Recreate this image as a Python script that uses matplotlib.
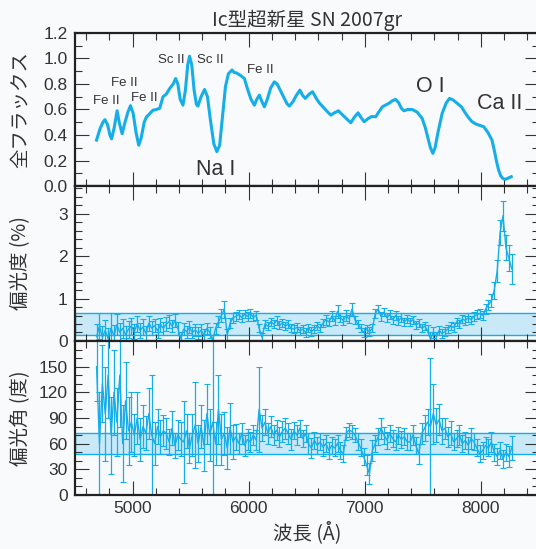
import numpy as np
import matplotlib
matplotlib.use('Agg')
import matplotlib.pyplot as plt
from matplotlib.ticker import MultipleLocator, FormatStrFormatter

plt.rcParams['font.family'] = ['Liberation Sans', 'Noto Sans CJK JP']
jp = ['Noto Sans CJK JP', 'DejaVu Sans']

# 全フラックス (wavelength, flux)
flux_wl = [4690, 4720, 4745, 4762, 4785, 4805, 4819, 4840, 4867, 4885, 4910, 4935, 4960, 4982,
           5005, 5030, 5053, 5075, 5100, 5119, 5150, 5176, 5205, 5234, 5262, 5290, 5320, 5350,
           5371, 5390, 5410, 5434, 5455, 5475, 5491, 5510, 5530, 5550, 5563, 5590, 5620, 5645,
           5670, 5700, 5726, 5750, 5775, 5800, 5825, 5857, 5875, 5892, 5925, 5963, 5990, 6020,
           6049, 6070, 6092, 6115, 6135, 6160, 6190, 6221, 6245, 6264, 6300, 6330, 6350, 6380,
           6410, 6441, 6465, 6487, 6520, 6550, 6580, 6607, 6640, 6670, 6707, 6740, 6773, 6800,
           6840, 6879, 6910, 6942, 6965, 6994, 7030, 7060, 7094, 7120, 7151, 7180, 7210, 7240,
           7265, 7290, 7315, 7337, 7370, 7408, 7450, 7494, 7520, 7545, 7565, 7586, 7605, 7630,
           7666, 7700, 7729, 7760, 7800, 7832, 7860, 7890, 7923, 7960, 7990, 8024, 8060, 8095,
           8115, 8135, 8152, 8170, 8190, 8210, 8235, 8261]
flux = [0.36, 0.45, 0.50, 0.52, 0.48, 0.40, 0.37, 0.45, 0.59, 0.50, 0.41, 0.50, 0.58, 0.63,
        0.57, 0.42, 0.32, 0.38, 0.50, 0.54, 0.57, 0.595, 0.60, 0.61, 0.70, 0.72, 0.765, 0.80,
        0.843, 0.80, 0.68, 0.634, 0.75, 0.95, 1.018, 0.95, 0.75, 0.64, 0.627, 0.70, 0.757, 0.70,
        0.52, 0.33, 0.27, 0.32, 0.55, 0.78, 0.88, 0.91, 0.89, 0.888, 0.87, 0.843, 0.76, 0.68,
        0.634, 0.68, 0.713, 0.66, 0.621, 0.68, 0.77, 0.817, 0.80, 0.765, 0.70, 0.645, 0.627, 0.66,
        0.71, 0.752, 0.71, 0.687, 0.72, 0.739, 0.69, 0.653, 0.62, 0.59, 0.556, 0.575, 0.59, 0.565,
        0.53, 0.496, 0.54, 0.574, 0.54, 0.504, 0.53, 0.545, 0.543, 0.58, 0.621, 0.635, 0.65, 0.67,
        0.679, 0.655, 0.61, 0.59, 0.60, 0.60, 0.58, 0.53, 0.46, 0.37, 0.30, 0.256, 0.30, 0.42,
        0.569, 0.65, 0.687, 0.675, 0.645, 0.621, 0.58, 0.54, 0.504, 0.485, 0.475, 0.465, 0.42, 0.36,
        0.28, 0.19, 0.126, 0.08, 0.058, 0.052, 0.062, 0.073]

# 偏光 binned data, 25 A bins from 4690 A
pol_wl = np.arange(4690, 8266, 25)
pol = [0.10, 0.35, 0.08, 0.25, 0.05, 0.30, 0.12, 0.38, 0.20, 0.30, 0.15, 0.28,
       0.35, 0.22, 0.40, 0.25, 0.33, 0.18, 0.42, 0.30, 0.36, 0.24, 0.38, 0.30,
       0.40, 0.46, 0.35, 0.48, 0.30, 0.05, 0.28, 0.22, 0.32, 0.20, 0.26, 0.18,
       0.25, 0.15, 0.30, 0.20, 0.02, 0.30, 0.45, 0.60, 0.75, 0.15, 0.42, 0.55,
       0.58, 0.62, 0.55, 0.63, 0.58, 0.65, 0.56, 0.60, 0.30, 0.08, 0.40, 0.35,
       0.45, 0.40, 0.48, 0.38, 0.42, 0.35, 0.40, 0.30, 0.28, 0.32, 0.24, 0.28,
       0.20, 0.30, 0.22, 0.28, 0.35, 0.30, 0.42, 0.50, 0.45, 0.58, 0.48, 0.70,
       0.55, 0.48, 0.60, 0.52, 0.75, 0.50, 0.40, 0.30, 0.20, 0.28, 0.22, 0.30,
       0.65, 0.75, 0.58, 0.68, 0.55, 0.62, 0.50, 0.60, 0.48, 0.55, 0.45, 0.52,
       0.45, 0.50, 0.38, 0.42, 0.30, 0.35, 0.25, 0.05, 0.20, 0.10, 0.25, 0.18,
       0.22, 0.28, 0.35, 0.32, 0.45, 0.40, 0.52, 0.48, 0.55, 0.50, 0.58, 0.62,
       0.65, 0.60, 0.75, 0.85, 0.95, 1.20, 1.65, 2.55, 2.95, 2.20, 1.95, 1.70]
pol_err = [0.30, 0.30, 0.28, 0.25, 0.25, 0.35, 0.25, 0.25, 0.22, 0.22, 0.20, 0.20,
           0.20, 0.18, 0.20, 0.18, 0.18, 0.18, 0.18, 0.16, 0.16, 0.16, 0.16, 0.15,
           0.16, 0.16, 0.15, 0.15, 0.15, 0.15, 0.15, 0.14, 0.14, 0.14, 0.14, 0.14,
           0.14, 0.14, 0.13, 0.13, 0.13, 0.13, 0.13, 0.15, 0.20, 0.14, 0.12, 0.12,
           0.11, 0.11, 0.11, 0.10, 0.10, 0.10, 0.10, 0.10, 0.10, 0.10, 0.10, 0.10,
           0.10, 0.10, 0.10, 0.10, 0.10, 0.10, 0.10, 0.10, 0.10, 0.10, 0.10, 0.10,
           0.10, 0.10, 0.10, 0.10, 0.10, 0.10, 0.10, 0.12, 0.10, 0.12, 0.10, 0.15,
           0.10, 0.10, 0.12, 0.10, 0.15, 0.10, 0.10, 0.10, 0.10, 0.10, 0.10, 0.10,
           0.10, 0.10, 0.10, 0.10, 0.10, 0.10, 0.10, 0.10, 0.10, 0.10, 0.10, 0.10,
           0.10, 0.10, 0.10, 0.10, 0.10, 0.10, 0.12, 0.15, 0.12, 0.12, 0.10, 0.10,
           0.10, 0.10, 0.10, 0.10, 0.10, 0.10, 0.10, 0.10, 0.10, 0.10, 0.10, 0.10,
           0.10, 0.10, 0.12, 0.12, 0.15, 0.20, 0.25, 0.30, 0.35, 0.30, 0.30, 0.35]
angle = [150, 60, 130, 95, 140, 70, 120, 85, 140, 60, 110, 75,
         85, 70, 90, 65, 80, 72, 95, 70, 60, 80, 68, 75,
         72, 62, 78, 58, 70, 65, 62, 75, 55, 70, 82, 60,
         80, 58, 95, 70, 85, 60, 100, 65, 72, 55, 78, 62,
         68, 60, 72, 58, 65, 62, 70, 64, 100, 78, 85, 72,
         80, 70, 76, 68, 74, 78, 72, 65, 75, 70, 78, 66,
         72, 60, 55, 64, 58, 62, 56, 60, 52, 58, 55, 60,
         52, 48, 72, 76, 74, 70, 62, 55, 45, 35, 25, 52,
         60, 68, 78, 70, 64, 72, 66, 62, 70, 65, 68, 62,
         62, 70, 58, 48, 72, 78, 85, 80, 95, 82, 88, 75,
         78, 68, 72, 62, 66, 70, 60, 64, 58, 66, 62, 55,
         48, 52, 58, 55, 62, 50, 45, 52, 42, 50, 45, 55]
angle_err = [40, 60, 45, 55, 50, 45, 50, 40, 60, 45, 45, 40,
             35, 25, 30, 25, 25, 20, 30, 70, 25, 20, 20, 18,
             18, 15, 20, 15, 18, 20, 48, 20, 18, 25, 50, 22,
             25, 30, 35, 30, 110, 25, 40, 30, 25, 25, 30, 20,
             15, 12, 12, 12, 12, 12, 12, 12, 50, 15, 15, 12,
             12, 12, 12, 12, 12, 12, 12, 12, 10, 12, 10, 10,
             10, 12, 12, 10, 10, 10, 10, 10, 10, 10, 10, 10,
             10, 10, 8, 8, 8, 8, 10, 10, 10, 12, 12, 12,
             10, 10, 12, 10, 10, 10, 10, 10, 10, 10, 10, 10,
             10, 12, 10, 12, 12, 15, 15, 80, 35, 20, 18, 15,
             12, 12, 14, 10, 10, 12, 10, 10, 10, 12, 10, 10,
             10, 10, 10, 10, 12, 10, 10, 10, 10, 10, 12, 14]

# 星間偏光の範囲
pol_band = (0.15, 0.66)
angle_band = (48, 73)

# line identifications: (label, wavelength, flux, size)
lines_id = [('Fe II', 4770, 0.67, 9.5), ('Fe II', 4927, 0.81, 9.5), ('Fe II', 5099, 0.69, 9.5),
            ('Sc II', 5334, 0.99, 9.5), ('Sc II', 5669, 0.99, 9.5), ('Fe II', 6101, 0.91, 9.5),
            ('Na I', 5715, 0.13, 15.5), ('O I', 7566, 0.78, 15.5), ('Ca II', 8158, 0.65, 15.5)]

cyan = '#16aee9'
bg = '#f9fafc'
tc = '#333333'

fig = plt.figure(figsize=(5.36, 5.49), dpi=100, facecolor=bg)
left, width = 0.139, 0.8666
ax1 = fig.add_axes([left, 0.6612, width, 0.2787])
ax2 = fig.add_axes([left, 0.3789, width, 0.2823])
ax3 = fig.add_axes([left, 0.0984, width, 0.2805])

for ax in (ax1, ax2, ax3):
    ax.set_facecolor(bg)
    ax.set_xlim(4500, 8500)
    ax.xaxis.set_major_locator(MultipleLocator(1000))
    ax.xaxis.set_minor_locator(MultipleLocator(200))
    ax.tick_params(which='both', direction='in', top=True, right=True, colors=tc,
                   labelsize=12.5, width=0.8)
    ax.tick_params(which='major', length=10)
    ax.tick_params(which='minor', length=5)
    ax.tick_params(axis='y', pad=5)
    ax.tick_params(axis='x', pad=4)
    for s in ax.spines.values():
        s.set_linewidth(1.6)
        s.set_color('#222222')

# top: flux
ax1.plot(flux_wl, flux, color=cyan, lw=2.2)
ax1.set_ylim(0, 1.2)
ax1.yaxis.set_major_locator(MultipleLocator(0.2))
ax1.yaxis.set_minor_locator(MultipleLocator(0.1))
ax1.yaxis.set_major_formatter(FormatStrFormatter('%.1f'))
ax1.tick_params(axis='x', labelbottom=False)
for name, wl, fy, sz in lines_id:
    ax1.text(wl, fy, name, fontsize=sz, ha='center', va='center', color=tc,
             family=['Liberation Sans'])
ax1.set_title('Ic型超新星 SN 2007gr', family=jp, fontsize=14, color=tc, pad=5)
ax1.set_ylabel('全フラックス', family=jp, fontsize=14, color=tc)

# middle: polarization
ax2.axhspan(*pol_band, facecolor='#c9e9f8', edgecolor=cyan, lw=1.0, zorder=0)
ax2.errorbar(pol_wl, pol, yerr=pol_err, color=cyan, lw=1.0, elinewidth=0.9,
             capsize=2, capthick=0.8, zorder=2)
ax2.set_ylim(0, 3.65)
ax2.yaxis.set_major_locator(MultipleLocator(1))
ax2.yaxis.set_minor_locator(MultipleLocator(0.2))
ax2.tick_params(axis='x', labelbottom=False)
ax2.set_ylabel('偏光度 (%)', family=jp, fontsize=14, color=tc)

# bottom: polarization angle
ax3.axhspan(*angle_band, facecolor='#c9e9f8', edgecolor=cyan, lw=1.0, zorder=0)
ax3.errorbar(pol_wl, angle, yerr=angle_err, color=cyan, lw=1.0, elinewidth=0.9,
             capsize=2, capthick=0.8, zorder=2)
ax3.set_ylim(0, 180)
ax3.set_yticks([0, 30, 60, 90, 120, 150])
ax3.yaxis.set_minor_locator(MultipleLocator(10))
ax3.set_ylabel('偏光角 (度)', family=jp, fontsize=14, color=tc)
ax3.set_xlabel('波長 (Å)', family=jp, fontsize=14, color=tc, labelpad=4)

for ax in (ax1, ax2, ax3):
    ax.yaxis.set_label_coords(-0.094, 0.5)

fig.savefig('out.png', dpi=100, facecolor=bg)
